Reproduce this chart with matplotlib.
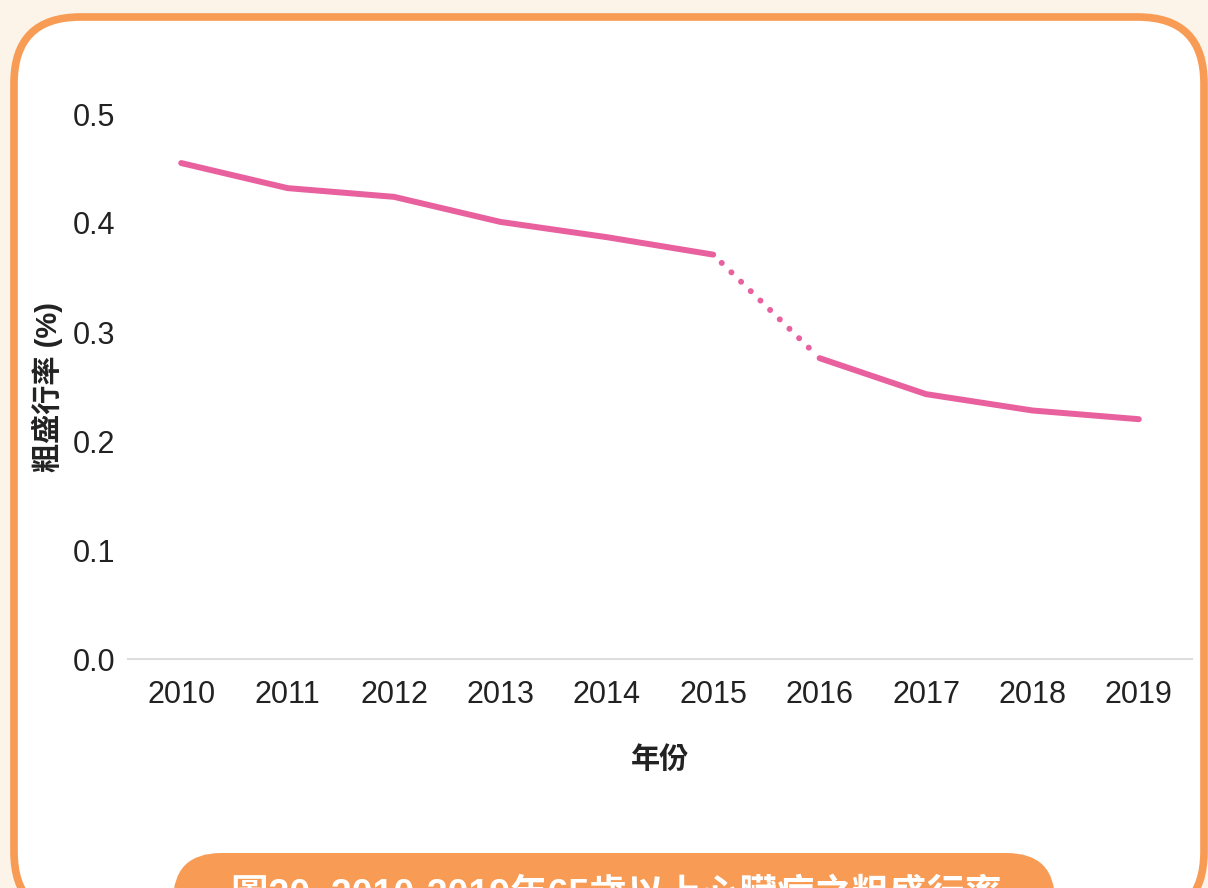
import matplotlib
matplotlib.use("Agg")
import matplotlib.pyplot as plt
from matplotlib.patches import FancyBboxPatch
import numpy as np

plt.rcParams['font.family'] = ['Liberation Sans', 'Noto Sans CJK TC', 'DejaVu Sans']

years = ["2010", "2011", "2012", "2013", "2014", "2015", "2016", "2017", "2018", "2019"]
rates = [0.455, 0.432, 0.424, 0.401, 0.387, 0.371, 0.276, 0.243, 0.228, 0.220]
y_ticks = [0.0, 0.1, 0.2, 0.3, 0.4, 0.5]
x_label = "年份"
y_label = "粗盛行率 (%)"
title = "圖20. 2010-2019年65歲以上心臟病之粗盛行率"

W, H = 1208, 888
fig = plt.figure(figsize=(W / 100, H / 100), dpi=100)
fig.patch.set_facecolor("#FCF4E8")

ORANGE = "#F79B55"
PINK = "#E8609E"

# outer rounded card
card = FancyBboxPatch((14 / W, -30 / H), (1204 - 14) / W, (871 + 30) / H,
                      boxstyle="round,pad=0,rounding_size=0.055",
                      transform=fig.transFigure, facecolor="white",
                      edgecolor=ORANGE, linewidth=5.5, mutation_aspect=W / H,
                      zorder=-2)
fig.patches.append(card)

# title pill
pill = FancyBboxPatch((173 / W, -60 / H), (1055 - 173) / W, (888 - 853 + 60) / H,
                      boxstyle="round,pad=0,rounding_size=0.04",
                      transform=fig.transFigure, facecolor=ORANGE,
                      edgecolor="none", mutation_aspect=W / H, zorder=-1)
fig.patches.append(pill)
fig.text(616 / W, 1 - 896 / H, title, ha="center", va="center",
         fontsize=27, fontweight="bold", color="white", zorder=5)

ax = fig.add_axes([128 / W, 1 - 659 / H, (1192 - 128) / W, (659 - 114) / H])
ax.set_facecolor("none")
ax.set_zorder(2)
x = list(range(len(years)))
i15 = years.index("2015")
i16 = years.index("2016")
LW = 4.3
ax.plot(x[:i15 + 1], rates[:i15 + 1], color=PINK, lw=LW,
        solid_capstyle="round", solid_joinstyle="round")
ax.plot(x[i16:], rates[i16:], color=PINK, lw=LW,
        solid_capstyle="round", solid_joinstyle="round")
# dotted bridge between 2015 and 2016
fx = np.array([x[i15], x[i16]], dtype=float)
fy = np.array([rates[i15], rates[i16]])
t0, t1 = 0.08, 0.93
bx = fx[0] + (fx[1] - fx[0]) * np.array([t0, t1])
by = fy[0] + (fy[1] - fy[0]) * np.array([t0, t1])
ax.plot(bx, by, color=PINK, lw=LW, linestyle=(0, (0.01, 2.25)),
        dash_capstyle="round")

ax.set_xlim(-0.5, len(years) - 0.5)
ax.set_ylim(0, 0.5)
ax.set_xticks(x)
ax.set_xticklabels(years)
ax.set_yticks(y_ticks)
ax.set_yticklabels([f"{v:.1f}" for v in y_ticks])
for s in ["top", "right", "left"]:
    ax.spines[s].set_visible(False)
ax.spines["bottom"].set_color("#DDDDDD")
ax.spines["bottom"].set_linewidth(1.5)
ax.tick_params(length=0, labelsize=22, colors="#222222")
ax.tick_params(axis="x", pad=15)
ax.tick_params(axis="y", pad=9)
ax.set_xlabel(x_label, fontsize=21, fontweight="bold", color="#222222", labelpad=26)
ax.set_ylabel(y_label, fontsize=21, fontweight="bold", color="#222222", labelpad=7)

fig.savefig("out.png", dpi=100, facecolor=fig.get_facecolor())
